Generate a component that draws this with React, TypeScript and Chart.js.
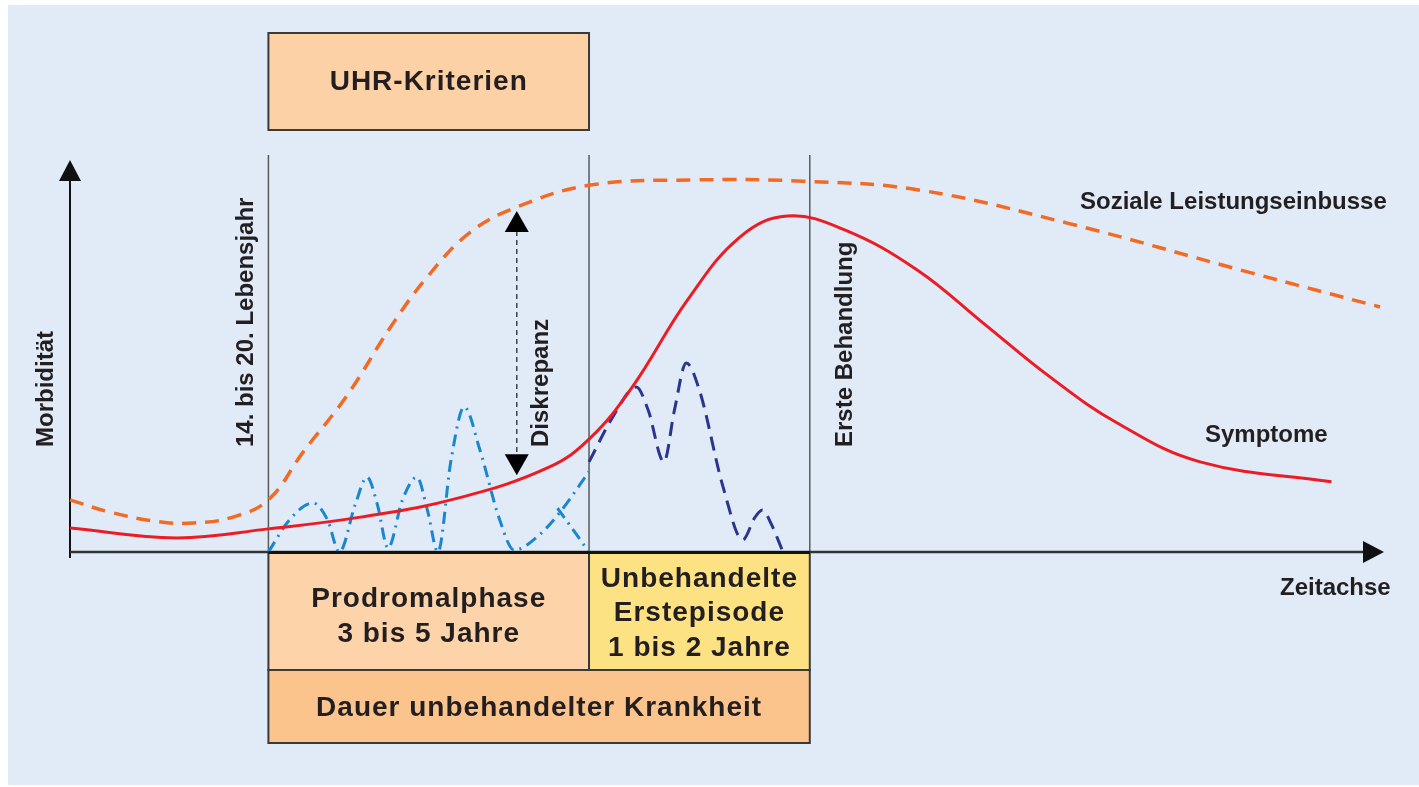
import React, { useEffect, useRef } from "react";
import { Chart, registerables } from "chart.js";

Chart.register(...registerables);

// Time axis 0..100 (arbitrary units), morbidity 0..100
const socialX = [0, 3.0, 6.8, 9.4, 12.4, 15.1, 17.7, 21.1, 24.4, 27.2, 30.4, 34.0, 39.6, 47.4, 55.8, 64.7, 75.9, 89.9, 99.7];
const socialY = [13.3, 10.2, 7.7, 7.4, 8.9, 13.3, 25.3, 40.0, 57.4, 70.2, 81.4, 88.0, 93.6, 94.9, 94.6, 92.3, 83.9, 71.2, 62.5];

const symptomX = [0, 8.1, 15.1, 22.1, 29.6, 36.5, 39.6, 42.8, 47.0, 51.0, 54.6, 59.0, 64.5, 69.5, 74.6, 79.7, 86.0, 96.0];
const symptomY = [6.1, 3.6, 5.9, 8.9, 13.8, 21.7, 29.1, 42.1, 64.3, 80.4, 85.7, 82.1, 71.9, 58.4, 44.6, 32.9, 23.0, 17.9];

const prodromeX = [15.1, 16.7, 18.5, 19.6, 20.5, 21.7, 22.6, 23.4, 24.2, 25.3, 26.4, 27.2, 28.0, 29.0, 30.0, 31.2, 32.7, 33.8, 35.7, 37.3, 39.5];
const prodromeY = [0, 8.2, 12.5, 8.2, 0, 12.0, 19.1, 12.0, 1.0, 13.3, 19.1, 10.7, 0, 23.5, 37.0, 26.0, 8.2, 0.5, 4.3, 10.2, 20.5];

const prodromeBranchX = [37.1, 39.5];
const prodromeBranchY = [11.2, 0];

const episodeX = [39.5, 41.3, 43.1, 44.0, 45.2, 46.0, 46.9, 47.9, 49.7, 51.2, 52.1, 52.7, 53.4, 54.2];
const episodeY = [23.0, 34.4, 42.1, 36.2, 23.0, 36.2, 48.2, 41.3, 16.6, 3.1, 8.7, 10.7, 6.9, 0.5];

// Phase boundaries on the time axis
const phaseStart = 15.1;
const prodromeEnd = 39.5;
const treatmentX = 56.3;

// Discrepancy arrow
const discrepancyX = 34.0;
const discrepancyTop = 87.0;
const discrepancyBottom = 19.6;

const topBoxLabel = "UHR-Kriterien";
const prodromeLabel = ["Prodromalphase", "3 bis 5 Jahre"];
const episodeLabel = ["Unbehandelte", "Erstepisode", "1 bis 2 Jahre"];
const durationLabel = "Dauer unbehandelter Krankheit";
const yAxisLabel = "Morbidität";
const ageLabel = "14. bis 20. Lebensjahr";
const discrepancyLabel = "Diskrepanz";
const treatmentLabel = "Erste Behandlung";
const socialLabel = "Soziale Leistungseinbusse";
const symptomLabel = "Symptome";
const xAxisLabel = "Zeitachse";

const FONT = '"Liberation Sans", Arial, Helvetica, sans-serif';
const TEXT = "#231f20";

function pts(xs: number[], ys: number[]) {
  return xs.map((x, i) => ({ x, y: ys[i] }));
}

function line(ctx: CanvasRenderingContext2D, x1: number, y1: number, x2: number, y2: number) {
  ctx.beginPath();
  ctx.moveTo(x1, y1);
  ctx.lineTo(x2, y2);
  ctx.stroke();
}

function tri(ctx: CanvasRenderingContext2D, p: number[][]) {
  ctx.beginPath();
  ctx.moveTo(p[0][0], p[0][1]);
  ctx.lineTo(p[1][0], p[1][1]);
  ctx.lineTo(p[2][0], p[2][1]);
  ctx.closePath();
  ctx.fill();
}

function vtext(ctx: CanvasRenderingContext2D, text: string, cx: number, yStart: number) {
  ctx.save();
  ctx.translate(cx, yStart);
  ctx.rotate(-Math.PI / 2);
  ctx.textAlign = "left";
  ctx.textBaseline = "middle";
  ctx.fillText(text, 0, 0);
  ctx.restore();
}

function box(ctx: CanvasRenderingContext2D, x: number, y: number, w: number, h: number, fill: string) {
  ctx.fillStyle = fill;
  ctx.fillRect(x, y, w, h);
  ctx.strokeStyle = "#3a3a3a";
  ctx.lineWidth = 2;
  ctx.strokeRect(x, y, w, h);
}

const diagramPlugin = {
  id: "diagram",
  beforeDraw(chart: any) {
    const { ctx, width, height } = chart;
    ctx.save();
    ctx.fillStyle = "#ffffff";
    ctx.fillRect(0, 0, width, height);
    ctx.fillStyle = "#e1ebf7";
    ctx.fillRect(8, 5, width - 8, height - 7);
    ctx.restore();
  },
  beforeDatasetsDraw(chart: any) {
    const { ctx, chartArea: a, scales } = chart;
    const xs = scales.x;
    ctx.save();
    ctx.strokeStyle = "#5a5a5a";
    ctx.lineWidth = 1.5;
    for (const v of [phaseStart, prodromeEnd, treatmentX]) {
      const px = xs.getPixelForValue(v);
      line(ctx, px, a.top - 5, px, a.bottom);
    }
    // y axis
    ctx.strokeStyle = "#111";
    ctx.fillStyle = "#111";
    ctx.lineWidth = 2;
    line(ctx, a.left, a.top + 18, a.left, a.bottom + 6);
    tri(ctx, [[a.left, a.top], [a.left - 11, a.top + 21], [a.left + 11, a.top + 21]]);
    // x axis
    ctx.strokeStyle = "#333";
    ctx.lineWidth = 2.5;
    line(ctx, a.left, a.bottom, a.right - 18, a.bottom);
    ctx.fillStyle = "#111";
    tri(ctx, [[a.right, a.bottom], [a.right - 21, a.bottom - 11], [a.right - 21, a.bottom + 11]]);
    ctx.restore();
  },
  afterDatasetsDraw(chart: any) {
    const { ctx, chartArea: a, scales } = chart;
    const xs = scales.x;
    const ys = scales.y;
    const x0 = xs.getPixelForValue(phaseStart);
    const x1 = xs.getPixelForValue(prodromeEnd);
    const x2 = xs.getPixelForValue(treatmentX);
    ctx.save();

    // boxes
    box(ctx, x0, 33, x1 - x0, 97, "#fdd1a6");
    const bTop = a.bottom + 1;
    box(ctx, x0, bTop, x1 - x0, 117, "#fdd3a9");
    box(ctx, x1, bTop, x2 - x1, 117, "#fde283");
    box(ctx, x0, bTop + 117, x2 - x0, 73, "#fbc48d");
    ctx.strokeStyle = "#111";
    ctx.lineWidth = 3;
    line(ctx, x0, a.bottom + 0.5, x2, a.bottom + 0.5);

    // box texts
    ctx.fillStyle = TEXT;
    ctx.textAlign = "center";
    ctx.textBaseline = "middle";
    ctx.font = `bold 28px ${FONT}`;
    (ctx as any).letterSpacing = "1px";
    ctx.fillText(topBoxLabel, (x0 + x1) / 2, 82);
    ctx.fillText(prodromeLabel[0], (x0 + x1) / 2, 599);
    ctx.fillText(prodromeLabel[1], (x0 + x1) / 2, 634);
    ctx.fillText(episodeLabel[0], (x1 + x2) / 2, 579);
    ctx.fillText(episodeLabel[1], (x1 + x2) / 2, 613);
    ctx.fillText(episodeLabel[2], (x1 + x2) / 2, 648);
    ctx.fillText(durationLabel, (x0 + x2) / 2, 708);
    (ctx as any).letterSpacing = "0px";

    // discrepancy arrow
    const dx = xs.getPixelForValue(discrepancyX);
    const dTop = ys.getPixelForValue(discrepancyTop);
    const dBot = ys.getPixelForValue(discrepancyBottom);
    ctx.strokeStyle = "#444";
    ctx.lineWidth = 1.5;
    ctx.setLineDash([5, 4]);
    line(ctx, dx, dTop + 20, dx, dBot - 20);
    ctx.setLineDash([]);
    ctx.fillStyle = "#000";
    tri(ctx, [[dx, dTop], [dx - 12, dTop + 21], [dx + 12, dTop + 21]]);
    tri(ctx, [[dx, dBot], [dx - 12, dBot - 21], [dx + 12, dBot - 21]]);

    // rotated labels
    ctx.fillStyle = TEXT;
    ctx.font = `bold 24px ${FONT}`;
    vtext(ctx, yAxisLabel, a.left - 24, 447);
    vtext(ctx, ageLabel, x0 - 22, 447);
    vtext(ctx, discrepancyLabel, dx + 25, 447);
    vtext(ctx, treatmentLabel, x2 + 36, 447);

    // series & axis labels
    ctx.textAlign = "left";
    ctx.textBaseline = "middle";
    ctx.fillText(socialLabel, 1080, 202);
    ctx.fillText(symptomLabel, 1205, 435);
    ctx.fillText(xAxisLabel, 1280, 588);
    ctx.restore();
  },
};

export default function App() {
  const canvasRef = useRef<HTMLCanvasElement | null>(null);

  useEffect(() => {
    document.body.style.margin = "0";
    const canvas = canvasRef.current;
    if (!canvas) return;
    const smooth = { pointRadius: 0, fill: false, clip: false as any, tension: 0.4 };
    const wave = {
      pointRadius: 0,
      fill: false,
      clip: false as any,
      cubicInterpolationMode: "monotone" as const,
    };
    const chart = new Chart(canvas, {
      type: "line",
      data: {
        datasets: [
          { ...smooth, label: symptomLabel, data: pts(symptomX, symptomY), borderColor: "#ec1c24", borderWidth: 3 },
          { ...smooth, label: socialLabel, data: pts(socialX, socialY), borderColor: "#f26a24", borderWidth: 3.5, borderDash: [14, 9] },
          { ...wave, label: "Prodrom", data: pts(prodromeX, prodromeY), borderColor: "#1a86d0", borderWidth: 3, borderDash: [12, 6, 2, 6] },
          { ...wave, label: "Prodrom2", data: pts(prodromeBranchX, prodromeBranchY), borderColor: "#1a86d0", borderWidth: 3, borderDash: [12, 6, 2, 6] },
          { ...wave, label: "Episode", data: pts(episodeX, episodeY), borderColor: "#2b3590", borderWidth: 3, borderDash: [14, 8] },
        ],
      },
      options: {
        responsive: false,
        animation: false,
        events: [],
        layout: { padding: { left: 70, right: 35, top: 160, bottom: 235 } },
        plugins: { legend: { display: false }, tooltip: { enabled: false } },
        scales: {
          x: { type: "linear", min: 0, max: 100, display: false },
          y: { type: "linear", min: 0, max: 100, display: false },
        },
      },
      plugins: [diagramPlugin],
    });
    return () => chart.destroy();
  }, []);

  return (
    <div style={{ width: 1419, height: 787, overflow: "hidden" }}>
      <canvas ref={canvasRef} width={1419} height={787} style={{ display: "block" }} />
    </div>
  );
}
